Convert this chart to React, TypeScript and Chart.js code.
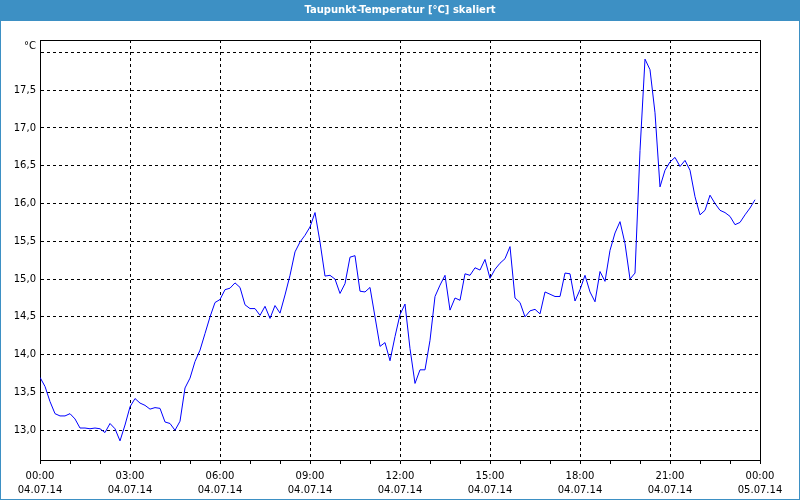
import React, { useEffect, useRef } from "react";
import { Chart, registerables } from "chart.js";

Chart.register(...registerables);

const TITLE = "Taupunkt-Temperatur [°C] skaliert";
const UNIT = "°C";
const SAMPLE_INTERVAL_MIN = 10;

// Dew point values, one every 10 minutes from 04.07.14 00:00
const dewPoint: number[] = [
  13.70, 13.58, 13.38, 13.22, 13.19, 13.19, 13.22, 13.15, 13.03, 13.03,
  13.02, 13.03, 13.02, 12.97, 13.09, 13.02, 12.86, 13.07, 13.31, 13.42,
  13.36, 13.33, 13.28, 13.30, 13.29, 13.11, 13.09, 13.00, 13.12, 13.56,
  13.69, 13.91, 14.06, 14.28, 14.50, 14.69, 14.73, 14.86, 14.88, 14.95,
  14.89, 14.66, 14.61, 14.61, 14.52, 14.64, 14.48, 14.65, 14.55, 14.79,
  15.05, 15.36, 15.49, 15.58, 15.69, 15.88, 15.49, 15.04, 15.05, 15.00,
  14.81, 14.94, 15.29, 15.31, 14.84, 14.83, 14.89, 14.50, 14.11, 14.16,
  13.92, 14.24, 14.53, 14.67, 14.08, 13.62, 13.80, 13.80, 14.19, 14.77,
  14.92, 15.05, 14.59, 14.75, 14.72, 15.07, 15.05, 15.15, 15.12, 15.26,
  15.01, 15.13, 15.21, 15.27, 15.43, 14.75, 14.69, 14.50, 14.58, 14.60,
  14.54, 14.83, 14.80, 14.77, 14.77, 15.08, 15.07, 14.71, 14.86, 15.05,
  14.83, 14.70, 15.10, 14.97, 15.38, 15.61, 15.76, 15.47, 15.00, 15.08,
  16.70, 17.91, 17.77, 17.20, 16.22, 16.44, 16.55, 16.61, 16.49, 16.57,
  16.44, 16.09, 15.85, 15.91, 16.11, 16.00, 15.91, 15.88, 15.83, 15.72,
  15.75, 15.85, 15.94, 16.05,
];

const xTickMinutes: number[] = [0, 180, 360, 540, 720, 900, 1080, 1260, 1440];
const xTickTimes: string[] = ["00:00", "03:00", "06:00", "09:00", "12:00", "15:00", "18:00", "21:00", "00:00"];
const xTickDates: string[] = ["04.07.14", "04.07.14", "04.07.14", "04.07.14", "04.07.14", "04.07.14", "04.07.14", "04.07.14", "05.07.14"];
const yTickValues: number[] = [13.0, 13.5, 14.0, 14.5, 15.0, 15.5, 16.0, 16.5, 17.0, 17.5, 18.0];
const yTickLabels: string[] = ["13,0", "13,5", "14,0", "14,5", "15,0", "15,5", "16,0", "16,5", "17,0", "17,5", ""];
const yMin = 12.607;
const yMax = 18.163;
const xMin = 0;
const xMax = 1440;

const BLUE = "#3d90c4";
const FONT = '"DejaVu Sans", Tahoma, sans-serif';

const framePlugin = {
  id: "frame",
  beforeDraw(chart: any) {
    const ctx = chart.ctx;
    ctx.save();
    ctx.fillStyle = "#ffffff";
    ctx.fillRect(0, 0, chart.width, chart.height);
    ctx.restore();
  },
  afterDraw(chart: any) {
    const ctx = chart.ctx;
    const a = chart.chartArea;
    ctx.save();
    ctx.strokeStyle = "#000000";
    ctx.lineWidth = 1;
    ctx.setLineDash([]);
    ctx.beginPath();
    ctx.moveTo(Math.round(a.left) + 0.5, Math.round(a.top) + 0.5);
    ctx.lineTo(Math.round(a.right) + 0.5, Math.round(a.top) + 0.5);
    ctx.lineTo(Math.round(a.right) + 0.5, Math.round(a.bottom) + 0.5);
    ctx.stroke();
    ctx.fillStyle = "#000000";
    ctx.font = `10px ${FONT}`;
    ctx.textAlign = "right";
    ctx.textBaseline = "middle";
    ctx.fillText(UNIT, a.left - 4, a.top + 6);
    ctx.fillStyle = BLUE;
    ctx.fillRect(0, 0, chart.width, 21);
    ctx.fillStyle = "#ffffff";
    ctx.font = `bold 10px ${FONT}`;
    ctx.textAlign = "center";
    ctx.textBaseline = "middle";
    ctx.fillText(TITLE, chart.width / 2, 10.5);
    ctx.strokeStyle = BLUE;
    ctx.strokeRect(0.5, 0.5, chart.width - 1, chart.height - 1);
    ctx.restore();
  },
};

export default function App() {
  const ref = useRef<HTMLCanvasElement | null>(null);

  useEffect(() => {
    if (!ref.current) return;
    const points = dewPoint.map((v, i) => ({ x: i * SAMPLE_INTERVAL_MIN, y: v }));
    const chart = new Chart(ref.current, {
      type: "line",
      data: {
        datasets: [
          {
            data: points,
            borderColor: "#0000ff",
            borderWidth: 1,
            pointRadius: 0,
            tension: 0,
            fill: false,
          },
        ],
      },
      options: {
        animation: false,
        responsive: false,
        events: [],
        layout: { padding: { left: 0, top: 40, right: 40, bottom: 0 } },
        plugins: {
          legend: { display: false },
          title: { display: false },
          tooltip: { enabled: false },
        },
        scales: {
          x: {
            type: "linear",
            min: xMin,
            max: xMax,
            afterFit: (s: any) => {
              s.height = 40;
            },
            afterBuildTicks: (s: any) => {
              const ticks: any[] = [];
              for (let m = xMin; m <= xMax; m += 60) ticks.push({ value: m });
              s.ticks = ticks;
            },
            ticks: {
              autoSkip: false,
              maxRotation: 0,
              minRotation: 0,
              padding: 5,
              color: "#000000",
              font: { family: FONT, size: 10, lineHeight: 1.4 },
              callback: (value: any) => {
                const idx = xTickMinutes.indexOf(Number(value));
                return idx >= 0 ? [xTickTimes[idx], xTickDates[idx]] : "";
              },
            },
            grid: {
              color: (c: any) =>
                c.tick && xTickMinutes.indexOf(c.tick.value) >= 0 ? "#000000" : "rgba(0,0,0,0)",
              lineWidth: 1,
              drawTicks: true,
              tickLength: 4,
              tickColor: "#000000",
              tickBorderDash: [],
            },
            border: { display: true, color: "#000000", width: 1, dash: [3, 3] },
          },
          y: {
            type: "linear",
            min: yMin,
            max: yMax,
            afterFit: (s: any) => {
              s.width = 40;
            },
            afterBuildTicks: (s: any) => {
              s.ticks = yTickValues.map((v) => ({ value: v }));
            },
            ticks: {
              padding: 4,
              color: "#000000",
              font: { family: FONT, size: 10 },
              callback: (value: any) => {
                const idx = yTickValues.indexOf(Number(value));
                return idx >= 0 ? yTickLabels[idx] : "";
              },
            },
            grid: {
              color: "#000000",
              lineWidth: 1,
              drawTicks: false,
            },
            border: { display: true, color: "#000000", width: 1, dash: [3, 3] },
          },
        },
      },
      plugins: [framePlugin],
    });
    return () => chart.destroy();
  }, []);

  return (
    <div style={{ position: "absolute", left: 0, top: 0, width: 800, height: 500 }}>
      <canvas ref={ref} width={800} height={500} style={{ display: "block" }} />
    </div>
  );
}
